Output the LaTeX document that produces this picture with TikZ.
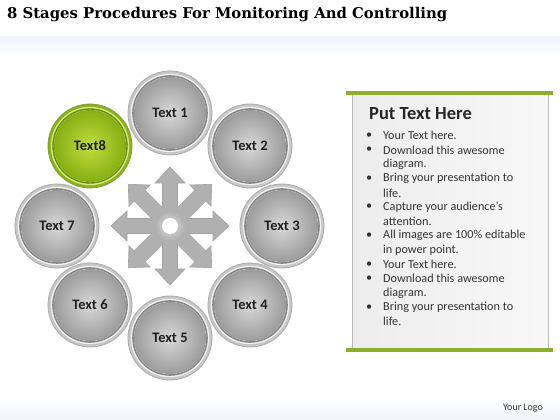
\documentclass[tikz,border=0pt]{standalone}
\usepackage{fontspec}
\usetikzlibrary{calc}
\setmainfont{Carlito}
\newfontfamily\titlefont{DejaVu Serif}
\definecolor{limeA}{HTML}{C2DE3C}
\definecolor{limeB}{HTML}{86AE14}
\definecolor{limeC}{HTML}{6A8A0E}
\definecolor{barG}{HTML}{8FAE2E}
\definecolor{bgblue}{HTML}{F0F5FA}
\tikzset{
  lbl/.style={font=\bfseries\fontsize{14.5}{16}\selectfont, text=black!88},
  bul/.style={font=\fontsize{12.2}{14}\selectfont, text=black!80, anchor=west, inner sep=0pt},
  arr/.style={fill=gray!62, draw=gray!72, line width=0.6pt},
}
\newcommand{\graydisk}[2]{%
  \shade[inner color=gray!20, outer color=gray!45] (#1) circle (42);
  \draw[gray!65, line width=0.8pt] (#1) circle (42);
  \fill[gray!10] (#1) circle (39.2);
  \draw[gray!95, line width=1.6pt] (#1) circle (37);
  \shade[inner color=gray!30, outer color=gray!78] (#1) circle (36);
  \node[lbl] (#2) at (#1) {};
}
\begin{document}
\begin{tikzpicture}[x=1pt,y=1pt]
\useasboundingbox (0,0) rectangle (560,-420);
\fill[white] (0,0) rectangle (560,-420);
\shade[top color=bgblue, bottom color=white] (0,-37) rectangle (560,-60);
\shade[top color=white, bottom color=bgblue] (0,-395) rectangle (560,-420);
% title
\node[anchor=west, inner sep=0pt] (title) at (7,-15) {\resizebox{440pt}{!}{\titlefont\bfseries\fontsize{15}{17}\selectfont 8 Stages Procedures For Monitoring And Controlling}};
% center arrows
\coordinate (ctr) at (170,-226);
\foreach \a in {0,45,...,315}{
  \draw[arr, rotate around={\a:(ctr)}] ($(ctr)+(0,-7.5)$) -- ++(43,0) -- ++(0,-7.5) -- ++(16,15) -- ++(-16,15) -- ++(0,-7.5) -- ++(-43,0) -- cycle;
}
\foreach \a in {0,45,...,315}{
  \fill[gray!62, rotate around={\a:(ctr)}] ($(ctr)+(0,-7.1)$) rectangle ++(42.6,14.2);
}
\shade[inner color=gray!25, outer color=gray!62] (ctr) circle (15);
\fill[white] (ctr) circle (8);
% disks
\coordinate (p1) at (170,-113);
\coordinate (p2) at (250,-146);
\coordinate (p3) at (282,-226);
\coordinate (p4) at (250,-305);
\coordinate (p5) at (170,-338);
\coordinate (p6) at (90,-305);
\coordinate (p7) at (57,-226);
\coordinate (p8) at (90,-146);
\graydisk{p1}{n1}
\graydisk{p2}{n2}
\graydisk{p3}{n3}
\graydisk{p4}{n4}
\graydisk{p5}{n5}
\graydisk{p6}{n6}
\graydisk{p7}{n7}
% green disk
\shade[inner color=limeA!60, outer color=limeB] (p8) circle (42);
\draw[limeC!80, line width=0.8pt] (p8) circle (42);
\fill[limeA!65] (p8) circle (39.2);
\draw[limeC, line width=1.4pt] (p8) circle (37);
\shade[inner color=limeA, outer color=limeB] (p8) circle (36);
\node[lbl] at (170,-113) {Text 1};
\node[lbl] at (250,-146) {Text 2};
\node[lbl] at (282,-226) {Text 3};
\node[lbl] at (250,-305) {Text 4};
\node[lbl] at (170,-338) {Text 5};
\node[lbl] at (90,-305) {Text 6};
\node[lbl] at (57,-226) {Text 7};
\node[lbl] (n8) at (90,-146) {Text8};
% panel
\shade[left color=gray!14, right color=gray!6, draw=gray!55, line width=0.8pt] (352,-93) rectangle (548,-350);
\fill[barG] (346,-91) rectangle (553,-95);
\fill[barG] (346,-348) rectangle (553,-352);
\node[anchor=west, inner sep=0pt, font=\bfseries\fontsize{18.5}{20}\selectfont, text=black!85] (ptitle) at (369,-114) {Put Text Here};
\foreach \t [count=\i from 0] in {
  {Your Text here.},
  {Download this awesome},
  {diagram.},
  {Bring your presentation to},
  {life.},
  {Capture your audience’s},
  {attention.},
  {All images are 100\% editable},
  {in power point.},
  {Your Text here.},
  {Download this awesome},
  {diagram.},
  {Bring your presentation to},
  {life.}}{
  \node[bul] at (383,{-135.7-14.3*\i}) {\t};
}
\foreach \i in {0,1,3,5,7,9,10,12}{
  \node[bul] at (366,{-135.7-14.3*\i}) {•};
}
\node[font=\fontsize{10}{11}\selectfont, text=black!80] (logo) at (523,-408) {Your Logo};
\end{tikzpicture}
\end{document}
